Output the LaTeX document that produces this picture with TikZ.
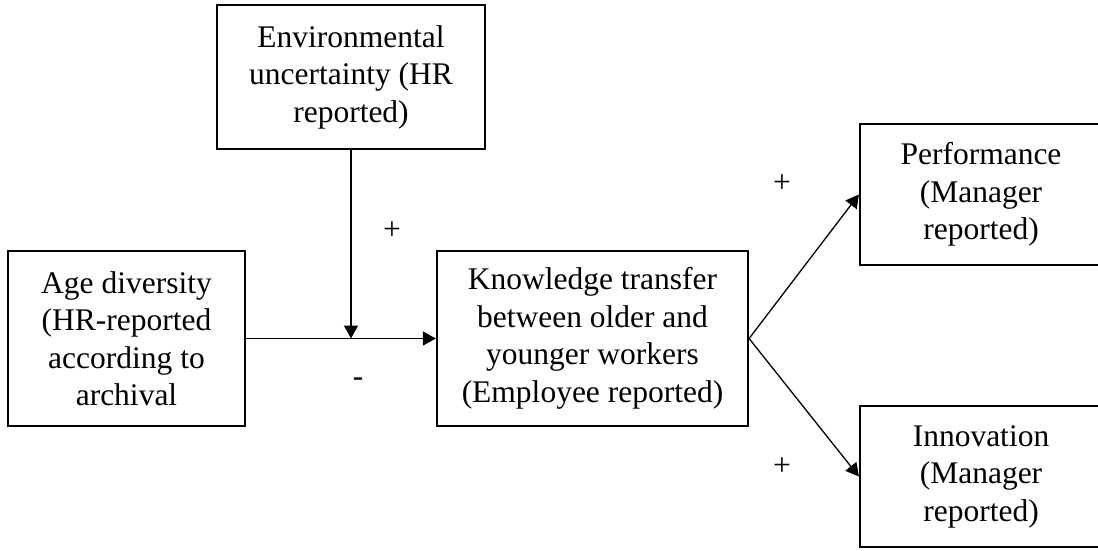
\documentclass[tikz,border=0pt]{standalone}
\usepackage{fontspec}
\setmainfont{Liberation Serif}
\usetikzlibrary{arrows.meta}
\begin{document}
\begin{tikzpicture}[x=1pt,y=-1pt,
  box/.style={draw, line width=2.2pt, rectangle, inner sep=0pt, align=center,
    font=\fontsize{31.5}{37.5}\selectfont},
  conn/.style={line width=1.3pt, -{Triangle[length=13pt,width=14pt]}},
  sign/.style={inner sep=0pt, font=\fontsize{31.5}{37.5}\selectfont}]
\clip (0,0) rectangle (1098,550);
\fill[white] (0,0) rectangle (1098,550);
\node[box, minimum width=268pt, minimum height=144pt] (env) at (351,77)
  {Environmental\\uncertainty (HR\\reported)};
\node[box, minimum width=237pt, minimum height=175pt] (age) at (126.5,338.5)
  {Age diversity\\(HR-reported\\according to\\archival};
\node[box, minimum width=311pt, minimum height=175pt] (know) at (592.5,338.5)
  {Knowledge transfer\\between older and\\younger workers\\(Employee reported)};
\node[box, minimum width=242pt, minimum height=141pt] (perf) at (981,194.5)
  {Performance\\(Manager\\reported)};
\node[box, minimum width=242pt, minimum height=141pt] (innov) at (981,476.5)
  {Innovation\\(Manager\\reported)};
\coordinate (j) at (env.south |- age.east);
\draw[conn] (env.south) -- (j);
\draw[conn] (age.east) -- (know.west);
\draw[conn] (know.east) -- (perf.west);
\draw[conn] (know.east) -- (innov.west);
\node[sign] (p1) at (392,231) {+};
\node[sign] (m1) at (358,382) {-};
\node[sign] (p2) at (782,184) {+};
\node[sign] (p3) at (782,467) {+};
\end{tikzpicture}
\end{document}
